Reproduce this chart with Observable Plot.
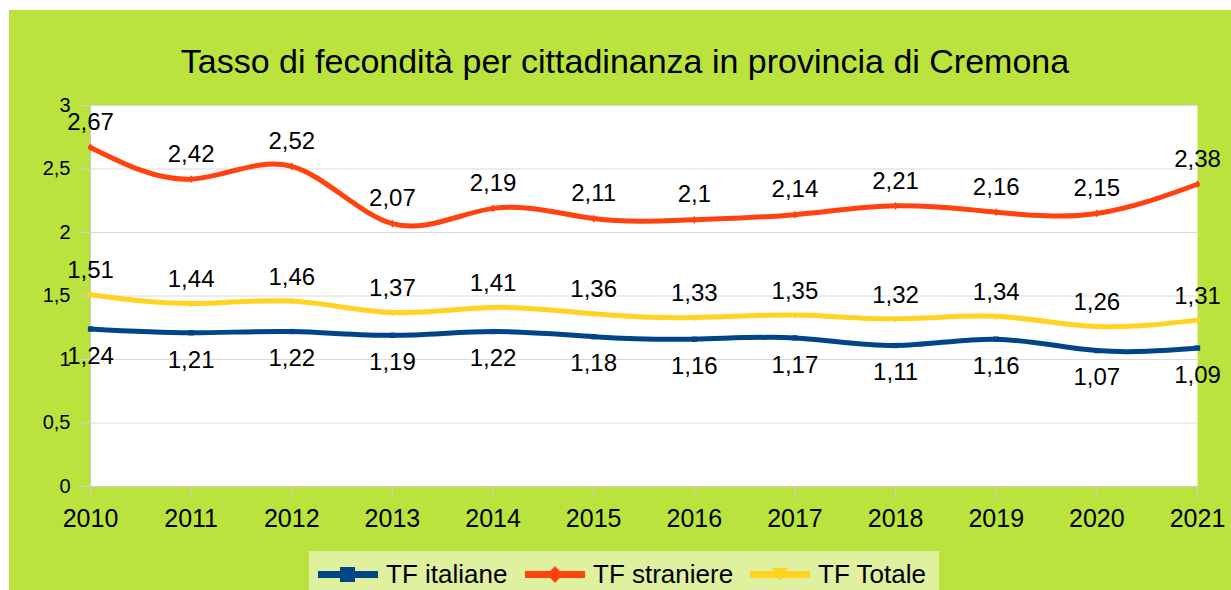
<!DOCTYPE html>
<html><head><meta charset="utf-8">
<script src="https://cdn.jsdelivr.net/npm/d3@7"></script>
<script src="https://cdn.jsdelivr.net/npm/@observablehq/plot@0.6"></script>
<style>
html,body{margin:0;padding:0;background:#fff;}
#page{position:relative;width:1231px;height:590px;overflow:hidden;font-family:"Liberation Sans",Arial,sans-serif;}
#bg{position:absolute;left:9px;top:10px;right:0;bottom:0;background:#bbe33d;}
#title{position:absolute;left:9px;width:1232px;top:44px;text-align:center;font-size:34px;line-height:34px;color:#000;}
#chart{position:absolute;left:0;top:0;}
#legend{position:absolute;left:309px;top:551px;width:630px;height:45px;background:#dff09f;}
.item{position:absolute;top:0;height:45px;}
.item svg{position:absolute;top:13px;left:0;}
.item span{position:absolute;top:8px;font-size:26px;line-height:30px;white-space:nowrap;color:#000;}
</style></head>
<body>
<div id="page">
  <div id="bg"></div>
  <div id="title"></div>
  <div id="chart"></div>
  <div id="legend"></div>
</div>
<script>
const titleText = "Tasso di fecondità per cittadinanza in provincia di Cremona";
const years = [2010, 2011, 2012, 2013, 2014, 2015, 2016, 2017, 2018, 2019, 2020, 2021];
const tfItaliane = [1.24, 1.21, 1.22, 1.19, 1.22, 1.18, 1.16, 1.17, 1.11, 1.16, 1.07, 1.09];
const tfStraniere = [2.67, 2.42, 2.52, 2.07, 2.19, 2.11, 2.1, 2.14, 2.21, 2.16, 2.15, 2.38];
const tfTotale = [1.51, 1.44, 1.46, 1.37, 1.41, 1.36, 1.33, 1.35, 1.32, 1.34, 1.26, 1.31];
const yTicks = [0, 0.5, 1, 1.5, 2, 2.5, 3];
const seriesNames = ["TF italiane", "TF straniere", "TF Totale"];
const seriesColors = ["#004586", "#ff420e", "#ffd320"];

document.getElementById("title").textContent = titleText;

const comma = v => String(v).replace(".", ",");
const rows = vals => years.map((y, i) => ({year: y, value: vals[i]}));
const ita = rows(tfItaliane), str = rows(tfStraniere), tot = rows(tfTotale);

const font = "'Liberation Sans', Arial, sans-serif";
const plot = Plot.plot({
  width: 1231,
  height: 540,
  marginLeft: 90,
  marginRight: 34,
  marginTop: 105,
  marginBottom: 54,
  style: {background: "transparent", fontFamily: font, color: "#000", overflow: "visible"},
  x: {domain: [2010, 2021]},
  y: {domain: [0, 3]},
  marks: [
    Plot.frame({fill: "white", stroke: null}),
    Plot.ruleY(yTicks, {stroke: "#d9d9d9", strokeWidth: 1}),
    Plot.ruleX([2010], {stroke: "#c8c8c8", strokeWidth: 1}),
    Plot.ruleY([0], {stroke: "#c8c8c8", strokeWidth: 1}),
    Plot.axisY({ticks: yTicks, tickFormat: comma, tickSize: 12, tickPadding: 8, stroke: "#d0d0d0", fontSize: 20, label: null}),
    Plot.axisX({ticks: years, tickFormat: d => String(d), tickSize: 11, tickPadding: 12, stroke: "#d0d0d0", fontSize: 25, label: null}),
    Plot.line(tot, {x: "year", y: "value", stroke: seriesColors[2], strokeWidth: 5, curve: "natural"}),
    Plot.line(ita, {x: "year", y: "value", stroke: seriesColors[0], strokeWidth: 5, curve: "natural"}),
    Plot.line(str, {x: "year", y: "value", stroke: seriesColors[1], strokeWidth: 5, curve: "natural"}),
    Plot.dot(ita, {x: "year", y: "value", symbol: "square", r: 3, fill: seriesColors[0]}),
    Plot.dot(str, {x: "year", y: "value", symbol: "diamond", r: 2.5, fill: seriesColors[1]}),
    Plot.dot(tot, {x: "year", y: "value", symbol: "triangle", rotate: 180, r: 2.5, fill: seriesColors[2]}),
    Plot.text(str, {x: "year", y: "value", text: d => comma(d.value), dy: -25, fontSize: 24, fill: "#000"}),
    Plot.text(tot, {x: "year", y: "value", text: d => comma(d.value), dy: -24, fontSize: 24, fill: "#000"}),
    Plot.text(ita, {x: "year", y: "value", text: d => comma(d.value), dy: 27, fontSize: 24, fill: "#000"})
  ]
});
document.getElementById("chart").appendChild(plot);

// legend
const legend = document.getElementById("legend");
const itemLeft = [9, 216, 441];
const symbolPaths = [
  '<rect x="22" y="3" width="15" height="15"/>',
  '<path d="M30 2 L38 10.5 L30 19 L22 10.5 Z"/>',
  '<path d="M22 4 L38 4 L30 17 Z"/>'
];
seriesNames.forEach((name, i) => {
  const d = document.createElement("div");
  d.className = "item";
  d.style.left = itemLeft[i] + "px";
  d.innerHTML = `<svg width="60" height="21"><line x1="0" x2="60" y1="10.5" y2="10.5" stroke="${seriesColors[i]}" stroke-width="7"/><g fill="${seriesColors[i]}">${symbolPaths[i]}</g></svg><span style="left:68px"></span>`;
  d.querySelector("span").textContent = name;
  legend.appendChild(d);
});
</script>
</body></html>
